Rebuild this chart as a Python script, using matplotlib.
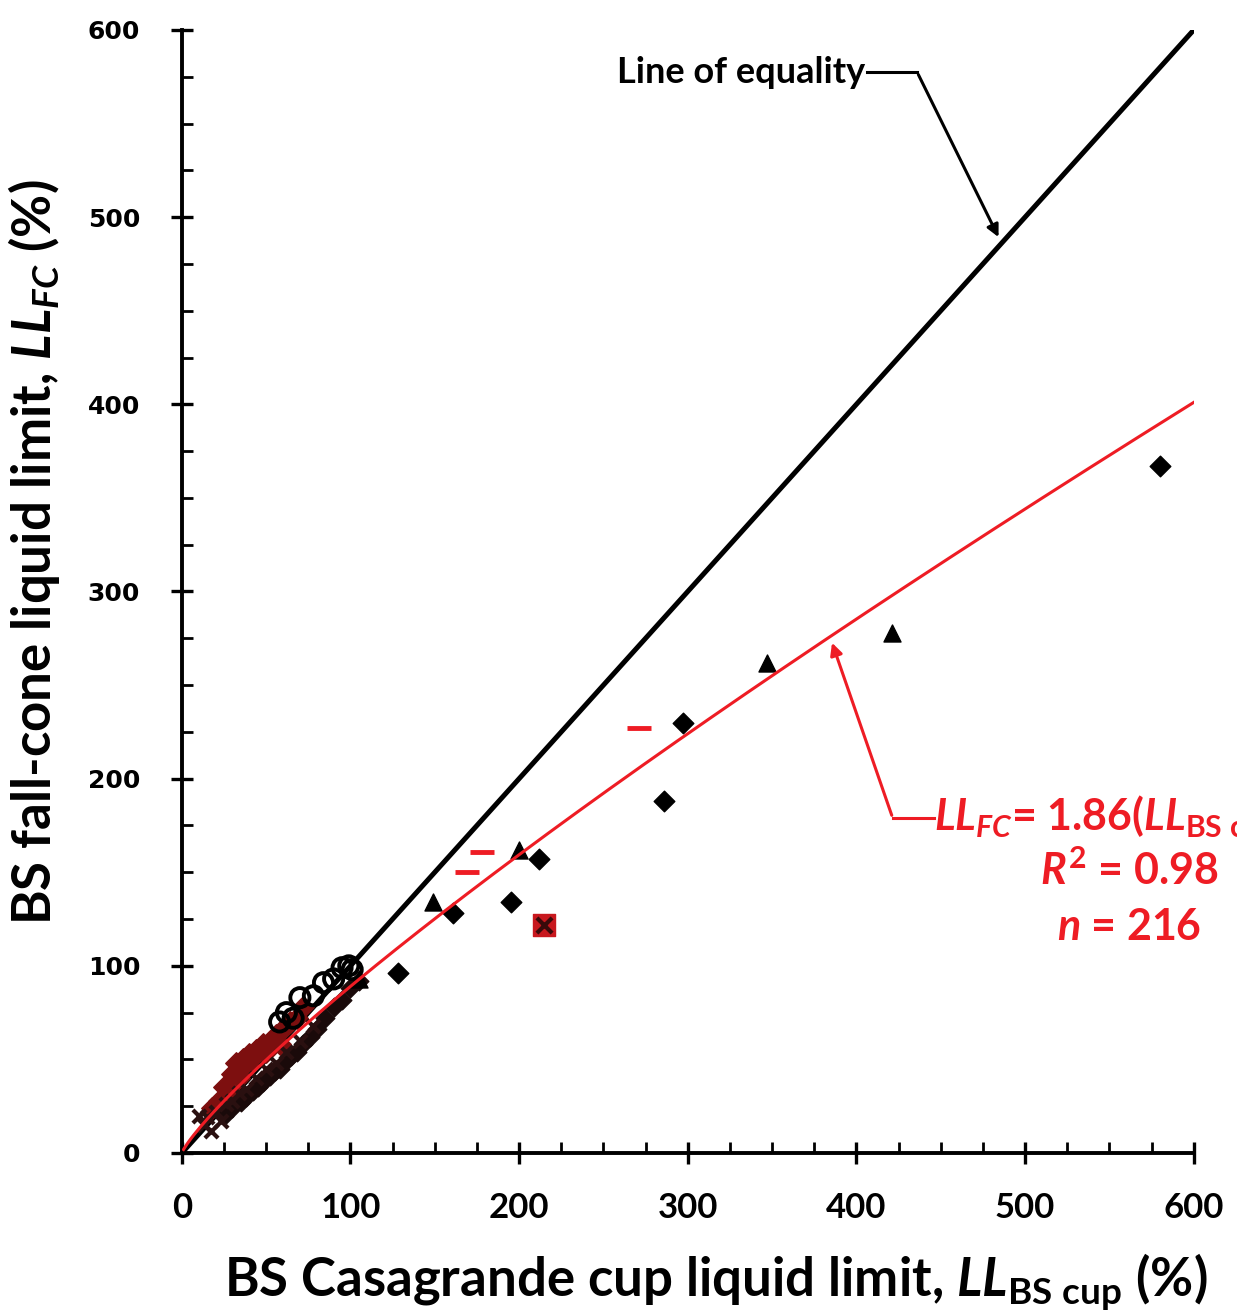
import matplotlib.pyplot as plt
import numpy as np
from matplotlib.ticker import MultipleLocator

plt.rcParams['font.family'] = ['Lato', 'DejaVu Sans']
plt.rcParams['mathtext.fontset'] = 'custom'
plt.rcParams['mathtext.rm'] = 'Lato:bold'
plt.rcParams['mathtext.bf'] = 'Lato:bold'
plt.rcParams['mathtext.it'] = 'Lato:bold:italic'

# fall-cone vs cup liquid limits, by marker group
dia_x = [580, 286, 297, 212, 195, 161, 128]
dia_y = [367, 188, 230, 157, 134, 128, 96]

tri_x = [421, 347, 200, 149, 105]
tri_y = [278, 262, 162, 134, 93]

dash_x = [271, 178, 169]
dash_y = [227, 161, 150]

sqx_x = [215]
sqx_y = [122]

circ_x = [58, 62, 66, 70, 78, 84, 90, 95, 99, 101]
circ_y = [70, 75, 72, 83, 84, 91, 93, 99, 100, 98]

red_dia_x = [18, 22, 25, 28, 30, 32, 34, 36, 38, 40, 42, 44, 46, 48, 50, 53, 56, 58, 60, 64, 68, 72]
red_dia_y = [24, 28, 35, 33, 42, 48, 40, 50, 46, 53, 49, 55, 52, 58, 54, 60, 63, 58, 66, 70, 72, 78]

blk_dia_x = [25, 30, 35, 38, 42, 45, 48, 52, 55, 58, 62, 65, 68, 72, 76, 80, 85, 90, 95, 100, 105]
blk_dia_y = [20, 24, 27, 30, 33, 35, 38, 41, 44, 45, 49, 52, 54, 58, 62, 66, 72, 78, 82, 88, 92]

xm_x = [10, 13, 15, 17, 20, 23, 26, 30, 34, 38, 44, 50, 56, 62, 70, 78]
xm_y = [20, 15, 19, 12, 22, 17, 26, 28, 32, 34, 40, 45, 48, 54, 60, 68]

# power-law fit LL_FC = 1.86 * LL_cup^0.84
fit_a = 1.86
fit_b = 0.84

fig = plt.figure(figsize=(12.37, 13.15), dpi=100)
ax = fig.add_axes([0.147, 0.1232, 0.818, 0.854])

# line of equality
ax.plot([0, 600], [0, 600], color='black', lw=3.6, zorder=2)

xf = np.linspace(1, 600, 300)
ax.plot(xf, fit_a * xf ** fit_b, color='#ee1c24', lw=2.2, zorder=4)

ax.scatter(red_dia_x, red_dia_y, marker='D', s=120, color='#7d0f0f', zorder=3)
ax.scatter(blk_dia_x, blk_dia_y, marker='D', s=90, color='#1a0a0a', zorder=3)
ax.scatter(xm_x, xm_y, marker='x', s=90, color='#2a1010', linewidths=3, zorder=3)
ax.scatter(circ_x, circ_y, marker='o', s=190, facecolors='none', edgecolors='black', linewidths=2.8, zorder=3)
ax.scatter(dia_x, dia_y, marker='D', s=110, color='black', zorder=3)
ax.scatter(tri_x, tri_y, marker='^', s=150, color='black', zorder=3)
ax.scatter(dash_x, dash_y, marker='_', s=300, color='#ee1c24', linewidths=3.5, zorder=3)
ax.scatter(sqx_x, sqx_y, marker='s', s=260, color='#c8181e', zorder=3)
ax.scatter(sqx_x, sqx_y, marker='x', s=120, color='#3a0a0a', linewidths=3, zorder=3)

ax.set_xlim(0, 600)
ax.set_ylim(0, 600)
for s in ['top', 'right']:
    ax.spines[s].set_visible(False)
for s in ['left', 'bottom']:
    ax.spines[s].set_linewidth(2.8)

ax.xaxis.set_major_locator(MultipleLocator(100))
ax.xaxis.set_minor_locator(MultipleLocator(25))
ax.yaxis.set_major_locator(MultipleLocator(100))
ax.yaxis.set_minor_locator(MultipleLocator(25))
ax.tick_params(which='major', direction='inout', length=16, width=2.4)
ax.tick_params(which='minor', direction='in', length=8, width=2)
ax.tick_params(axis='x', pad=20)
ax.tick_params(axis='y', pad=22)

for lab in ax.get_xticklabels():
    lab.set_fontfamily('Lato')
    lab.set_fontweight('bold')
    lab.set_fontsize(25)
for lab in ax.get_yticklabels():
    lab.set_fontfamily('DejaVu Sans')
    lab.set_fontweight('bold')
    lab.set_fontsize(18)

ax.set_xlabel(r'BS Casagrande cup liquid limit, $LL_{\mathrm{BS\ cup}}$ (%)',
              fontsize=38, fontweight='bold')
ax.set_ylabel(r'BS fall-cone liquid limit, $LL_{FC}$ (%)',
              fontsize=38, fontweight='bold')
ax.xaxis.set_label_coords(0.528, -0.088)
ax.yaxis.set_label_coords(-0.118, 0.535)

# annotation for the equality line
ax.text(405, 577.5, 'Line of equality', fontsize=26, fontweight='bold',
        ha='right', va='center')
ax.plot([406, 436], [577.5, 577.5], color='black', lw=2.2)
ax.annotate('', xy=(485, 488), xytext=(436, 577.5),
            arrowprops=dict(arrowstyle='-|>', color='black', lw=2.2, mutation_scale=18))

# fit annotation
ax.plot([446, 421.5], [179, 179], color='#ee1c24', lw=2.2, clip_on=False)
ax.annotate('', xy=(385, 274), xytext=(421.5, 179),
            arrowprops=dict(arrowstyle='-|>', color='#ee1c24', lw=2.2, mutation_scale=18))
ax.text(446, 179, r'$LL_{FC}$= 1.86($LL_{\mathrm{BS\ cup}}$)$^{0.84}$', color='#ee1c24',
        fontsize=31, fontweight='bold', ha='left', va='center')
ax.text(562, 151, r'$R^2$ = 0.98', color='#ee1c24', fontsize=31, fontweight='bold',
        ha='center', va='center')
ax.text(562, 121, r'$n$ = 216', color='#ee1c24', fontsize=31, fontweight='bold',
        ha='center', va='center')

fig.savefig('out.png', dpi=100)
